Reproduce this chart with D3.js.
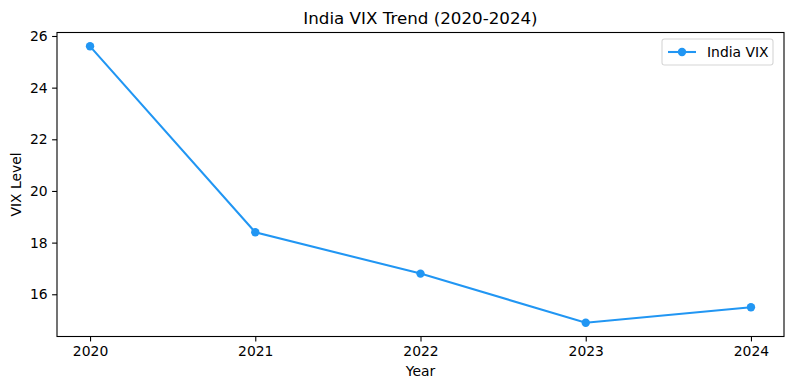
<!DOCTYPE html>
<html>
<head>
<meta charset="utf-8">
<script src="https://cdn.jsdelivr.net/npm/d3@7"></script>
<style>
  body { margin: 0; background: #fff; }
  svg { display: block; font-family: "DejaVu Sans", sans-serif; }
</style>
</head>
<body>
<svg id="chart" width="790" height="390"></svg>
<script>
// data
let years = [2020, 2021, 2022, 2023, 2024]
let vix = [25.6, 18.4, 16.8, 14.9, 15.5]
let yTicks = [16, 18, 20, 22, 24, 26]

let color = '#2196f3'
let m = {left: 57, right: 784, top: 32.5, bottom: 336.5}
let svg = d3.select('#chart')

// matplotlib style 5% margins
let xPad = (d3.max(years) - d3.min(years)) * 0.05
let yPad = (d3.max(vix) - d3.min(vix)) * 0.05
let x = d3.scaleLinear()
    .domain([d3.min(years) - xPad, d3.max(years) + xPad])
    .range([m.left, m.right])
let y = d3.scaleLinear()
    .domain([d3.min(vix) - yPad, d3.max(vix) + yPad])
    .range([m.bottom, m.top])

let xAxis = svg.append('g')
    .attr('transform', `translate(0,${m.bottom})`)
    .call(d3.axisBottom(x).tickValues(years).tickFormat(d3.format('d')).tickSize(4.9).tickPadding(4.5))
let yAxis = svg.append('g')
    .attr('transform', `translate(${m.left},0)`)
    .call(d3.axisLeft(y).tickValues(yTicks).tickSize(4.9).tickPadding(4.5))

for (let g of [xAxis, yAxis]) {
    g.select('.domain').remove()
    g.selectAll('line').attr('stroke', '#000').attr('stroke-width', 1.1)
    g.selectAll('text').attr('font-size', 13.9).attr('fill', '#000')
        .attr('font-family', '"DejaVu Sans", sans-serif')
}

// frame
svg.append('rect')
    .attr('x', m.left).attr('y', m.top)
    .attr('width', m.right - m.left).attr('height', m.bottom - m.top)
    .attr('fill', 'none').attr('stroke', '#000').attr('stroke-width', 1.1)

let line = d3.line().x((d, i) => x(years[i])).y(d => y(d))
svg.append('path')
    .datum(vix)
    .attr('d', line)
    .attr('fill', 'none')
    .attr('stroke', color)
    .attr('stroke-width', 2.08)

svg.selectAll('circle.pt')
    .data(vix)
    .join('circle')
    .attr('class', 'pt')
    .attr('cx', (d, i) => x(years[i]))
    .attr('cy', d => y(d))
    .attr('r', 4.2)
    .attr('fill', color)

// title and labels
svg.append('text')
    .text('India VIX Trend (2020-2024)')
    .attr('x', (m.left + m.right) / 2).attr('y', 23.5)
    .attr('text-anchor', 'middle')
    .attr('font-size', 16.7)
svg.append('text')
    .text('Year')
    .attr('x', (m.left + m.right) / 2).attr('y', 376)
    .attr('text-anchor', 'middle')
    .attr('font-size', 13.9)
svg.append('text')
    .text('VIX Level')
    .attr('transform', `translate(21,${(m.top + m.bottom) / 2})rotate(-90)`)
    .attr('text-anchor', 'middle')
    .attr('font-size', 13.9)

// legend
let lg = svg.append('g').attr('transform', 'translate(662,39)')
lg.append('rect')
    .attr('width', 111).attr('height', 26).attr('rx', 2.5)
    .attr('fill', '#fff').attr('fill-opacity', 0.8)
    .attr('stroke', '#d6d6d6').attr('stroke-width', 1.1)
lg.append('line')
    .attr('x1', 6).attr('x2', 34).attr('y1', 13).attr('y2', 13)
    .attr('stroke', color).attr('stroke-width', 2.08)
lg.append('circle')
    .attr('cx', 20).attr('cy', 13).attr('r', 4.2).attr('fill', color)
lg.append('text')
    .text('India VIX')
    .attr('x', 45).attr('y', 18)
    .attr('font-size', 13.9)
</script>
</body>
</html>
